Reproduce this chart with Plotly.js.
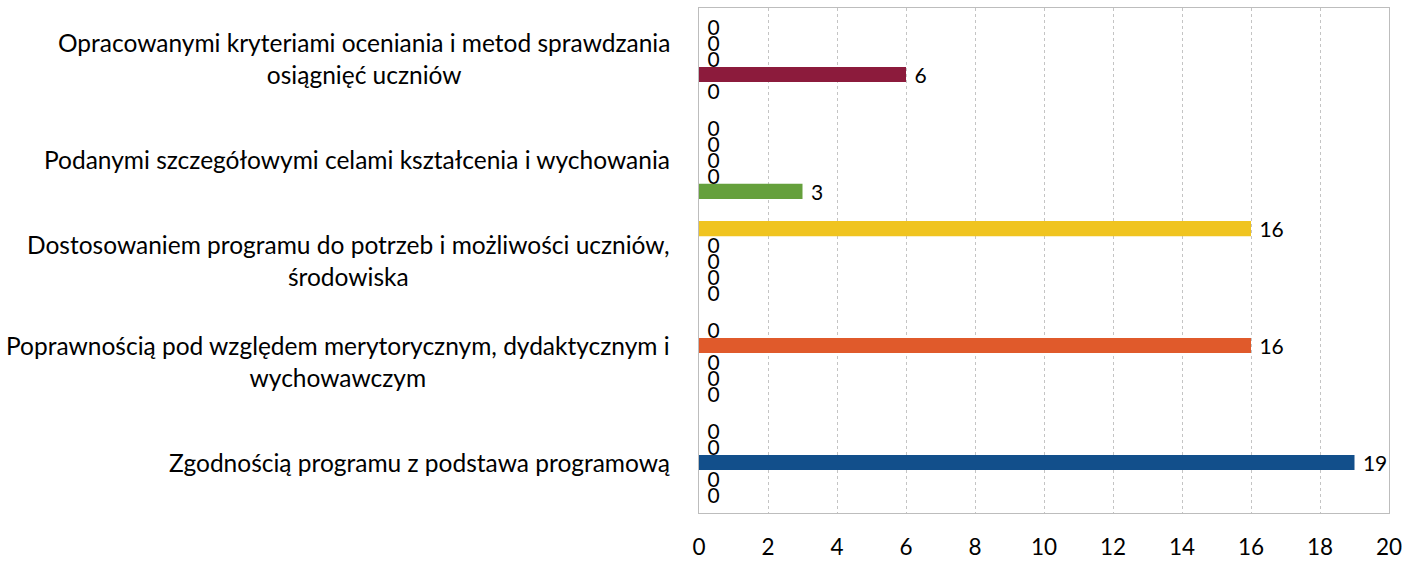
<!DOCTYPE html>
<html>
<head>
<meta charset="utf-8">
<script src="https://cdn.plot.ly/plotly-3.0.1.min.js"></script>
<style>html,body{margin:0;padding:0;background:#fff;}#chart{width:1422px;height:564px;}</style>
</head>
<body>
<div id="chart"></div>
<script>
// Categories, bottom to top
const categories = [
  "Zgodnością programu z podstawa programową",
  "Poprawnością pod względem merytorycznym, dydaktycznym i<br>wychowawczym",
  "Dostosowaniem programu do potrzeb i możliwości uczniów,<br>środowiska",
  "Podanymi szczegółowymi celami kształcenia i wychowania",
  "Opracowanymi kryteriami oceniania i metod sprawdzania<br>osiągnięć uczniów"
];
// Series (first series drawn at the bottom of each group)
const seriesGreen  = [0, 0, 0, 3, 0];
const seriesRed    = [0, 0, 0, 0, 6];
const seriesBlue   = [19, 0, 0, 0, 0];
const seriesOrange = [0, 16, 0, 0, 0];
const seriesYellow = [0, 0, 16, 0, 0];
const xTicks = [0, 2, 4, 6, 8, 10, 12, 14, 16, 18, 20];

const series = [
  {name: "S1", values: seriesGreen,  color: "#65a03c"},
  {name: "S2", values: seriesRed,    color: "#8c1b3c"},
  {name: "S3", values: seriesBlue,   color: "#124f8b"},
  {name: "S4", values: seriesOrange, color: "#e05a2b"},
  {name: "S5", values: seriesYellow, color: "#f0c420"}
];

const FONT = "Lato, 'Open Sans', sans-serif";

const traces = series.map(s => ({
  type: "bar",
  orientation: "h",
  name: s.name,
  y: categories,
  x: s.values,
  marker: {color: s.color},
  text: s.values.map(v => "\u00a0" + v),
  textposition: "outside",
  constraintext: "none",
  cliponaxis: false,
  textfont: {family: FONT, size: 21, color: "#000"},
  hoverinfo: "x+y"
}));

const annotations = categories.map(c => ({
  xref: "paper", yref: "y",
  x: 0, y: c,
  xanchor: "right", yanchor: "middle",
  xshift: -27,
  text: c,
  align: "center",
  showarrow: false,
  font: {family: FONT, size: 24.5, color: "#000"}
}));

const layout = {
  width: 1422, height: 564,
  margin: {l: 699, r: 33, t: 8, b: 51},
  paper_bgcolor: "#fff",
  plot_bgcolor: "#fff",
  barmode: "group",
  bargap: 0.21,
  bargroupgap: 0.05,
  showlegend: false,
  font: {family: FONT, color: "#000"},
  xaxis: {
    range: [0, 20],
    tickvals: xTicks,
    ticktext: xTicks.map(String),
    showgrid: true,
    gridcolor: "#c4c4c4",
    gridwidth: 1,
    griddash: "dot",
    zeroline: false,
    showline: true,
    linecolor: "#bdbdbd",
    linewidth: 1,
    mirror: true,
    ticks: "",
    ticklabelstandoff: 14,
    tickfont: {family: FONT, size: 22.5, color: "#000"}
  },
  yaxis: {
    type: "category",
    categoryorder: "array",
    categoryarray: categories,
    showticklabels: false,
    showgrid: false,
    zeroline: false,
    showline: true,
    linecolor: "#bdbdbd",
    linewidth: 1,
    mirror: true,
    ticks: ""
  },
  annotations: annotations
};

Plotly.newPlot("chart", traces, layout, {displayModeBar: false, staticPlot: true});
</script>
</body>
</html>
